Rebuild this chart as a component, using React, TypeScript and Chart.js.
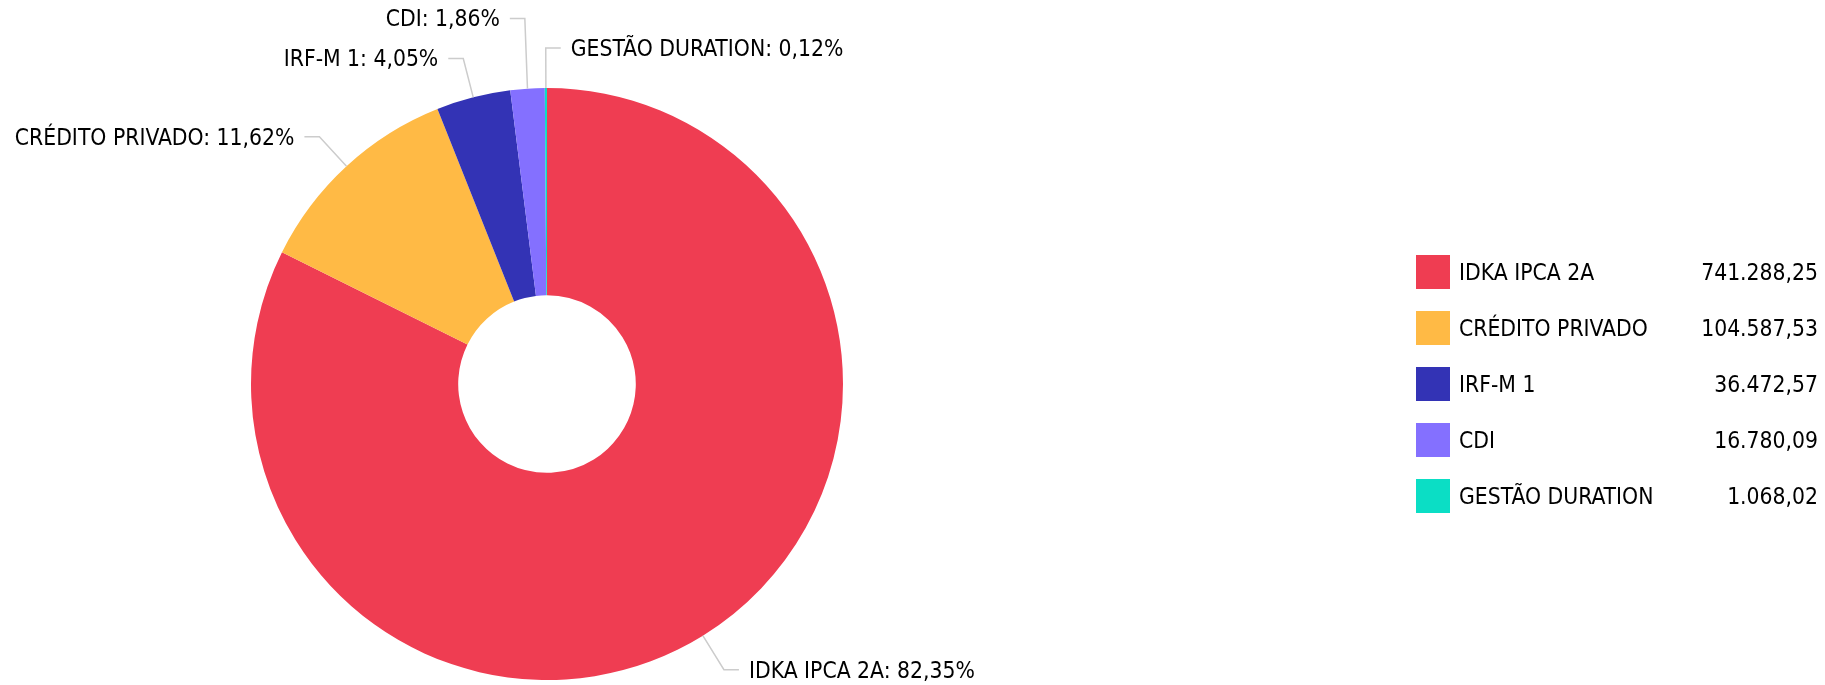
import React, { useEffect, useRef } from "react";
import { Chart, registerables } from "chart.js";

Chart.register(...registerables);

const categories = ["IDKA IPCA 2A", "CRÉDITO PRIVADO", "IRF-M 1", "CDI", "GESTÃO DURATION"];
const values = [741288.25, 104587.53, 36472.57, 16780.09, 1068.02];
const colors = ["#EF3D52", "#FFBA45", "#3333B5", "#8470FF", "#0BDEC5"];

const FONT = '22.7px "DejaVu Sans Condensed", "DejaVu Sans"';
const TEXT_COLOR = "#000000";
const LINE_COLOR = "#CCCCCC";

function fmtNumber(v: number): string {
  const fixed = v.toFixed(2);
  const [intPart, dec] = fixed.split(".");
  const withDots = intPart.replace(/\B(?=(\d{3})+(?!\d))/g, ".");
  return withDots + "," + dec;
}

function fmtPct(v: number, total: number): string {
  return ((v / total) * 100).toFixed(2).replace(".", ",") + "%";
}

const labelsPlugin = {
  id: "outerLabels",
  afterDatasetsDraw(chart: any) {
    const ctx = chart.ctx as CanvasRenderingContext2D;
    const meta = chart.getDatasetMeta(0);
    const data = chart.data.datasets[0].data as number[];
    const total = data.reduce((a, b) => a + b, 0);
    const radial = 40;
    const hLen = 15;
    const textGap = 25;
    const minGap = 40;

    type L = { i: number; mid: number; side: number; ideal: number; y: number; ax: number; ay: number; bx: number };
    const items: L[] = [];
    meta.data.forEach((arc: any, i: number) => {
      const mid = (arc.startAngle + arc.endAngle) / 2;
      const R = arc.outerRadius;
      const cx = arc.x;
      const cy = arc.y;
      const side = Math.cos(mid) < -0.01 ? -1 : 1;
      items.push({
        i,
        mid,
        side,
        ideal: cy + Math.sin(mid) * (R + radial),
        y: 0,
        ax: cx + Math.cos(mid) * R,
        ay: cy + Math.sin(mid) * R,
        bx: cx + Math.cos(mid) * (R + radial),
      });
    });

    [-1, 1].forEach((side) => {
      const group = items.filter((it) => it.side === side).sort((a, b) => data[b.i] - data[a.i]);
      const placed: number[] = [];
      group.forEach((it) => {
        const cands = [it.ideal];
        placed.forEach((p) => {
          cands.push(p - minGap, p + minGap);
        });
        const valid = cands.filter((c) => placed.every((p) => Math.abs(p - c) >= minGap - 0.01) && c > 10 && c < chart.height - 10);
        valid.sort((a, b) => Math.abs(a - it.ideal) - Math.abs(b - it.ideal));
        it.y = valid.length ? valid[0] : it.ideal;
        placed.push(it.y);
      });
    });

    ctx.save();
    ctx.font = FONT;
    ctx.textBaseline = "middle";
    items.forEach((it) => {
      ctx.strokeStyle = LINE_COLOR;
      ctx.lineWidth = 1.5;
      ctx.beginPath();
      ctx.moveTo(it.ax, it.ay);
      ctx.lineTo(it.bx, it.y);
      ctx.lineTo(it.bx + it.side * hLen, it.y);
      ctx.stroke();
      ctx.fillStyle = TEXT_COLOR;
      ctx.textAlign = it.side < 0 ? "right" : "left";
      const txt = chart.data.labels[it.i] + ": " + fmtPct(data[it.i], total);
      ctx.fillText(txt, it.bx + it.side * textGap, it.y + 2);
    });
    ctx.restore();
  },
};

const legendPlugin = {
  id: "valueLegend",
  afterDraw(chart: any) {
    const ctx = chart.ctx as CanvasRenderingContext2D;
    const data = chart.data.datasets[0].data as number[];
    const labels = chart.data.labels as string[];
    const bg = chart.data.datasets[0].backgroundColor as string[];
    const meta = chart.getDatasetMeta(0);
    const centerY = meta.data[0].y;
    const box = 34;
    const rowH = 56;
    const x0 = 1416;
    const xRight = 1818;
    const n = labels.length;
    const top = centerY - ((n - 1) * rowH + box) / 2;
    ctx.save();
    ctx.font = FONT;
    ctx.textBaseline = "middle";
    labels.forEach((lab, i) => {
      const y = top + i * rowH;
      ctx.fillStyle = bg[i];
      ctx.fillRect(x0, y, box, box);
      ctx.fillStyle = TEXT_COLOR;
      ctx.textAlign = "left";
      ctx.fillText(lab, x0 + box + 9, y + box / 2 + 2);
      ctx.textAlign = "right";
      ctx.fillText(fmtNumber(data[i]), xRight, y + box / 2 + 2);
    });
    ctx.restore();
  },
};

export default function App() {
  const ref = useRef<HTMLCanvasElement | null>(null);
  useEffect(() => {
    if (!ref.current) return;
    const chart = new Chart(ref.current, {
      type: "doughnut",
      data: {
        labels: categories,
        datasets: [
          {
            data: values,
            backgroundColor: colors,
            borderWidth: 0,
            hoverOffset: 0,
            offset: 0,
          },
        ],
      },
      options: {
        responsive: false,
        animation: false,
        devicePixelRatio: 1,
        cutout: "30%",
        layout: { padding: { left: 251, right: 982, top: 88, bottom: 5 } },
        plugins: {
          legend: { display: false },
          tooltip: { enabled: false },
        },
        events: [],
      },
      plugins: [labelsPlugin, legendPlugin],
    });
    return () => chart.destroy();
  }, []);
  return (
    <div style={{ position: "fixed", left: 0, top: 0, width: 1825, height: 685, background: "#fff" }}>
      <canvas ref={ref} width={1825} height={685} style={{ width: 1825, height: 685, display: "block" }} />
    </div>
  );
}
